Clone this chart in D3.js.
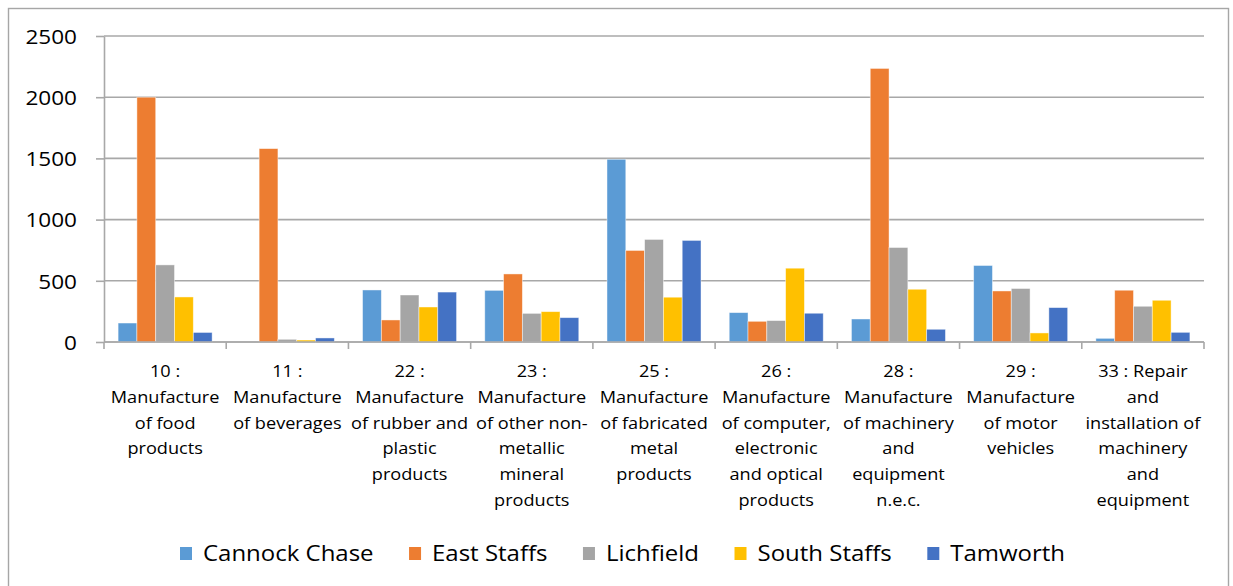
<!DOCTYPE html>
<html>
<head>
<meta charset="utf-8">
<script src="https://cdn.jsdelivr.net/npm/d3@7"></script>
<style>
  html, body { margin: 0; padding: 0; background: #fff; }
  svg { display: block; }
  text { font-family: "Open Sans", "DejaVu Sans", sans-serif; fill: #000; }
</style>
</head>
<body>
<svg id="chart" width="1233" height="586"></svg>
<script>
// Industry groups (SIC divisions) and their wrapped tick labels
const categories = ["10", "11", "22", "23", "25", "26", "28", "29", "33"];
const tickLabels = [
  ["10 :", "Manufacture", "of food", "products"],
  ["11 :", "Manufacture", "of beverages"],
  ["22 :", "Manufacture", "of rubber and", "plastic", "products"],
  ["23 :", "Manufacture", "of other non-", "metallic", "mineral", "products"],
  ["25 :", "Manufacture", "of fabricated", "metal", "products"],
  ["26 :", "Manufacture", "of computer,", "electronic", "and optical", "products"],
  ["28 :", "Manufacture", "of machinery", "and", "equipment", "n.e.c."],
  ["29 :", "Manufacture", "of motor", "vehicles"],
  ["33 : Repair", "and", "installation of", "machinery", "and", "equipment"]
];

// Districts
const seriesNames = ["Cannock Chase", "East Staffs", "Lichfield", "South Staffs", "Tamworth"];
const seriesColors = ["#5B9BD5", "#ED7D31", "#A5A5A5", "#FFC000", "#4472C4"];

// Values per district, one per industry group
const cannockChase = [155, 0, 425, 422, 1493, 240, 188, 625, 30];
const eastStaffs   = [2000, 1580, 180, 556, 748, 169, 2235, 417, 423];
const lichfield    = [630, 22, 384, 234, 838, 175, 772, 437, 292];
const southStaffs  = [368, 16, 286, 248, 366, 603, 431, 74, 341];
const tamworth     = [78, 33, 408, 199, 830, 235, 104, 281, 79];

const yTicks = [0, 500, 1000, 1500, 2000, 2500];

const seriesValues = [cannockChase, eastStaffs, lichfield, southStaffs, tamworth];

const svg = d3.select("#chart");
const gridColor = "#a8a8a8";
const textScaleX = 1.1;

// Outer chart frame
svg.append("rect")
  .attr("x", 8.5).attr("y", 8.5)
  .attr("width", 1220).attr("height", 600)
  .attr("fill", "none")
  .attr("stroke", "#a6a6a6")
  .attr("stroke-width", 1.4);

const plot = { left: 104, right: 1204, top: 36, bottom: 342 };

const x = d3.scaleBand()
  .domain(categories)
  .range([plot.left, plot.right])
  .paddingInner(0).paddingOuter(0);

const bw = x.bandwidth();
const gapHalf = bw * 0.75 / 6.5;
const xs = d3.scaleBand()
  .domain(seriesNames)
  .range([gapHalf, bw - gapHalf])
  .padding(0);

const y = d3.scaleLinear()
  .domain([0, 2500])
  .range([plot.bottom, plot.top]);

// Horizontal gridlines
svg.append("g")
  .selectAll("line")
  .data(yTicks)
  .join("line")
  .attr("x1", plot.left).attr("x2", plot.right)
  .attr("y1", d => y(d)).attr("y2", d => y(d))
  .attr("stroke", gridColor)
  .attr("stroke-width", 1.6);

// Bars
const rows = [];
categories.forEach((c, i) => {
  seriesNames.forEach((s, j) => {
    rows.push({ cat: c, series: s, value: seriesValues[j][i], color: seriesColors[j] });
  });
});

svg.append("g")
  .selectAll("rect")
  .data(rows.filter(d => d.value > 0))
  .join("rect")
  .attr("x", d => x(d.cat) + xs(d.series))
  .attr("y", d => y(d.value))
  .attr("width", xs.bandwidth())
  .attr("height", d => y(0) - y(d.value))
  .attr("fill", d => d.color)
  .attr("stroke", "#ffffff")
  .attr("stroke-opacity", 0.55)
  .attr("stroke-width", 0.8);

// Y axis
const yAxis = svg.append("g")
  .attr("transform", `translate(${plot.left},0)`)
  .call(d3.axisLeft(y).tickValues(yTicks).tickSize(8).tickSizeOuter(0).tickFormat(d3.format("d")));
yAxis.select(".domain").attr("stroke", gridColor).attr("stroke-width", 1.6);
yAxis.selectAll(".tick line").attr("stroke", gridColor).attr("stroke-width", 1.6);
yAxis.selectAll(".tick text")
  .attr("x", null).attr("dy", "0.36em")
  .attr("transform", `translate(-27,0) scale(${textScaleX},1)`)
  .attr("text-anchor", "end")
  .style("font-family", "'Open Sans', sans-serif")
  .style("font-size", "20.5px")
  .attr("fill", "#000");

// X axis baseline and category boundary ticks
svg.append("line")
  .attr("x1", plot.left).attr("x2", plot.right)
  .attr("y1", y(0)).attr("y2", y(0))
  .attr("stroke", gridColor).attr("stroke-width", 1.6);

const boundaries = categories.map(c => x(c)).concat([x(categories[categories.length - 1]) + bw]);
svg.append("g")
  .selectAll("line")
  .data(boundaries)
  .join("line")
  .attr("x1", d => d).attr("x2", d => d)
  .attr("y1", y(0)).attr("y2", y(0) + 7)
  .attr("stroke", gridColor).attr("stroke-width", 1.6);

// Category labels, wrapped onto several lines
const labelG = svg.append("g");
categories.forEach((c, i) => {
  const cx = x(c) + bw / 2;
  tickLabels[i].forEach((line, k) => {
    labelG.append("text")
      .attr("transform", `translate(${cx},${377.3 + k * 25.7}) scale(${textScaleX},1)`)
      .attr("text-anchor", "middle")
      .style("font-size", "16.5px")
      .text(line);
  });
});

// Legend
const legend = svg.append("g");
let lx = 180;
seriesNames.forEach((name, j) => {
  legend.append("rect")
    .attr("x", lx).attr("y", 547)
    .attr("width", 12).attr("height", 13)
    .attr("fill", seriesColors[j]);
  const t = legend.append("text")
    .attr("transform", `translate(${lx + 23},${561}) scale(${textScaleX},1)`)
    .style("font-size", "21.8px")
    .text(name);
  const w = t.node().getComputedTextLength() * textScaleX;
  lx = lx + 23 + w + 35.5;
});
</script>
</body>
</html>
